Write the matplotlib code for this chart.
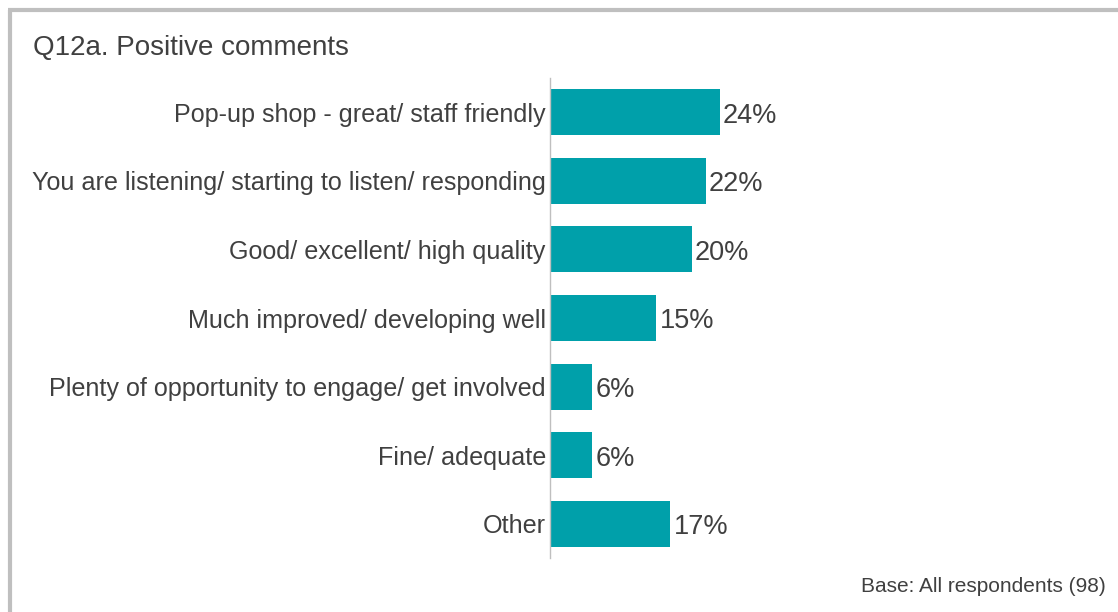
import matplotlib
matplotlib.use("Agg")
import matplotlib.pyplot as plt
from matplotlib.lines import Line2D

plt.rcParams['font.family'] = ['Liberation Sans', 'DejaVu Sans']

# data
categories = [
    "Pop-up shop - great/ staff friendly",
    "You are listening/ starting to listen/ responding",
    "Good/ excellent/ high quality",
    "Much improved/ developing well",
    "Plenty of opportunity to engage/ get involved",
    "Fine/ adequate",
    "Other",
]
values = [24, 22, 20, 15, 6, 6, 17]
value_labels = ["24%", "22%", "20%", "15%", "6%", "6%", "17%"]

W, H = 1118, 612
fig = plt.figure(figsize=(W / 100, H / 100), dpi=100)

text_col = "#404040"
bar_col = "#00A0AA"
border_col = "#BFBFBF"

# axes placed in pixel coords: left 550, right 1100, top 78, bottom 558
left, right, top, bottom = 550, 1100, 78, 558
ax = fig.add_axes([left / W, 1 - bottom / H, (right - left) / W, (bottom - top) / H])

ypos = list(range(len(categories)))
ax.barh(ypos, values, height=0.67, color=bar_col)
ax.set_ylim(len(categories) - 0.5, -0.5)
ax.set_xlim(0, (right - left) / 7.08)

ax.set_yticks(ypos)
ax.set_yticklabels(categories, fontsize=18.1, color=text_col)
ax.tick_params(axis="y", length=0, pad=3)
for t in ax.get_yticklabels():
    t.set_y(t.get_position()[1])
ax.set_xticks([])
for s in ["top", "right", "bottom"]:
    ax.spines[s].set_visible(False)
ax.spines["left"].set_color("#BFBFBF")
ax.spines["left"].set_linewidth(1)

for y, v, lab in zip(ypos, values, value_labels):
    ax.text(v + 0.45, y + 0.05, lab, va="center", ha="left", fontsize=19.5, color=text_col)

fig.text(33 / W, 1 - 47.5 / H, "Q12a. Positive comments", fontsize=20,
         color=text_col, va="center", ha="left")
fig.text(1106 / W, 1 - 587 / H, "Base: All respondents (98)", fontsize=15,
         color=text_col, va="center", ha="right")

# grey frame: left and top edges
fig.add_artist(Line2D([9.5 / W, 9.5 / W], [0, 1 - 10 / H], color=border_col, lw=3,
                      transform=fig.transFigure, solid_capstyle="butt"))
fig.add_artist(Line2D([8 / W, 1], [1 - 10 / H, 1 - 10 / H], color=border_col, lw=3,
                      transform=fig.transFigure, solid_capstyle="butt"))

fig.savefig("out.png", dpi=100)
